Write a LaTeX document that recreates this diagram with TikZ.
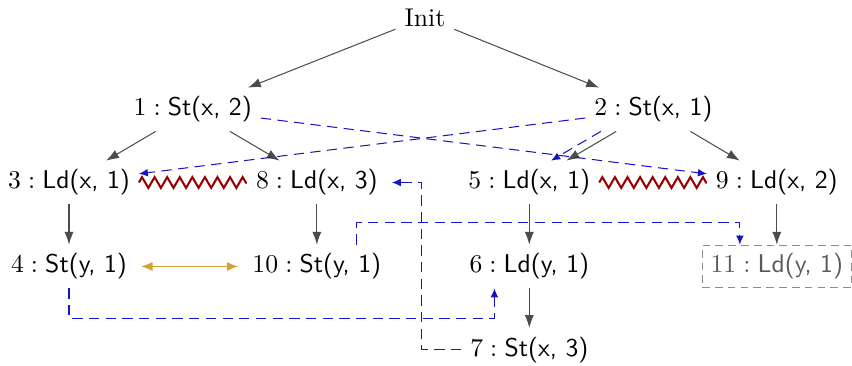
\documentclass[tikz,border=0pt]{standalone}
\usepackage{amsmath}
\usepackage{tikz}
\usetikzlibrary{arrows.meta,decorations.pathmorphing}
\definecolor{depblue}{RGB}{20,20,195}
\definecolor{racered}{RGB}{150,0,0}
\definecolor{cohgold}{RGB}{214,160,55}

\begin{document}
\begin{tikzpicture}[
    ev/.style={inner sep=3.33pt},
    po/.style={-{Latex[length=5pt,width=3.6pt]}, black!70},
    dep/.style={-{Latex[length=3.5pt,width=3pt]}, depblue, dash pattern=on 4pt off 2.5pt},
    race/.style={decorate, decoration={zigzag, segment length=4.9pt, amplitude=2.1pt}, racered, thick},
    co/.style={{Latex[length=4.5pt,width=3.6pt]}-{Latex[length=4.5pt,width=3.6pt]}, cohgold, semithick},
    ghost/.style={ev, draw=black!45, dash pattern=on 3pt off 2pt, text=black!65}
  ]
    \useasboundingbox (0,0) rectangle (11.67,5.01);

    \node[ev] (init) at (5.82,4.77) {Init};

    \node[ev] (n1) at (2.64,3.51) {$1:\textsf{St(x, 2)}$};
    \node[ev] (n2) at (8.95,3.51) {$2:\textsf{St(x, 1)}$};

    \node[ev] (n3) at (0.945,2.51) {$3:\textsf{Ld(x, 1)}$};
    \node[ev] (n8) at (4.34,2.51) {$8:\textsf{Ld(x, 3)}$};
    \node[ev] (n5) at (7.25,2.51) {$5:\textsf{Ld(x, 1)}$};
    \node[ev] (n9) at (10.64,2.51) {$9:\textsf{Ld(x, 2)}$};

    \node[ev] (n4) at (0.945,1.36) {$4:\textsf{St(y, 1)}$};
    \node[ev] (n10) at (4.34,1.36) {$10:\textsf{St(y, 1)}$};
    \node[ev] (n6) at (7.25,1.36) {$6:\textsf{Ld(y, 1)}$};
    \node[ghost] (n11) at (10.64,1.36) {$11:\textsf{Ld(y, 1)}$};

    \node[ev] (n7) at (7.25,0.22) {$7:\textsf{St(x, 3)}$};

    % program order
    \draw[po] (init) -- (n1);
    \draw[po] (init) -- (n2);
    \draw[po] (n1) -- (n3);
    \draw[po] (n1) -- (n8);
    \draw[po] (n2) -- (n5);
    \draw[po] (n2) -- (n9);
    \draw[po] (n3) -- (n4);
    \draw[po] (n8) -- (n10);
    \draw[po] (n5) -- (n6);
    \draw[po] (n6) -- (n7);
    \draw[po] (n9) -- (n11);

    % races and coherence
    \draw[race] (n3) -- (n8);
    \draw[race] (n5) -- (n9);
    \draw[co, shorten <=2pt, shorten >=2pt] (n4) -- (n10);

    % reads-from
    \draw[dep] (n1) -- (n9);
    \draw[dep] (n2) -- (n3);
    \draw[dep, transform canvas={xshift=-6pt}] (n2) -- (n5);
    \draw[dep] ([xshift=15.5pt]n10.north) -- ++(0,0.3) -| ([xshift=-14.4pt]n11.north);
    \draw[dep] (n4.south) -- ++(0,-0.41) -| ([xshift=-13.6pt]n6.south);
    \draw[dep, shorten >=2pt] (n7.west) -| ([xshift=13.7pt]n8.east) -- (n8.east);
  \end{tikzpicture}
\end{document}
